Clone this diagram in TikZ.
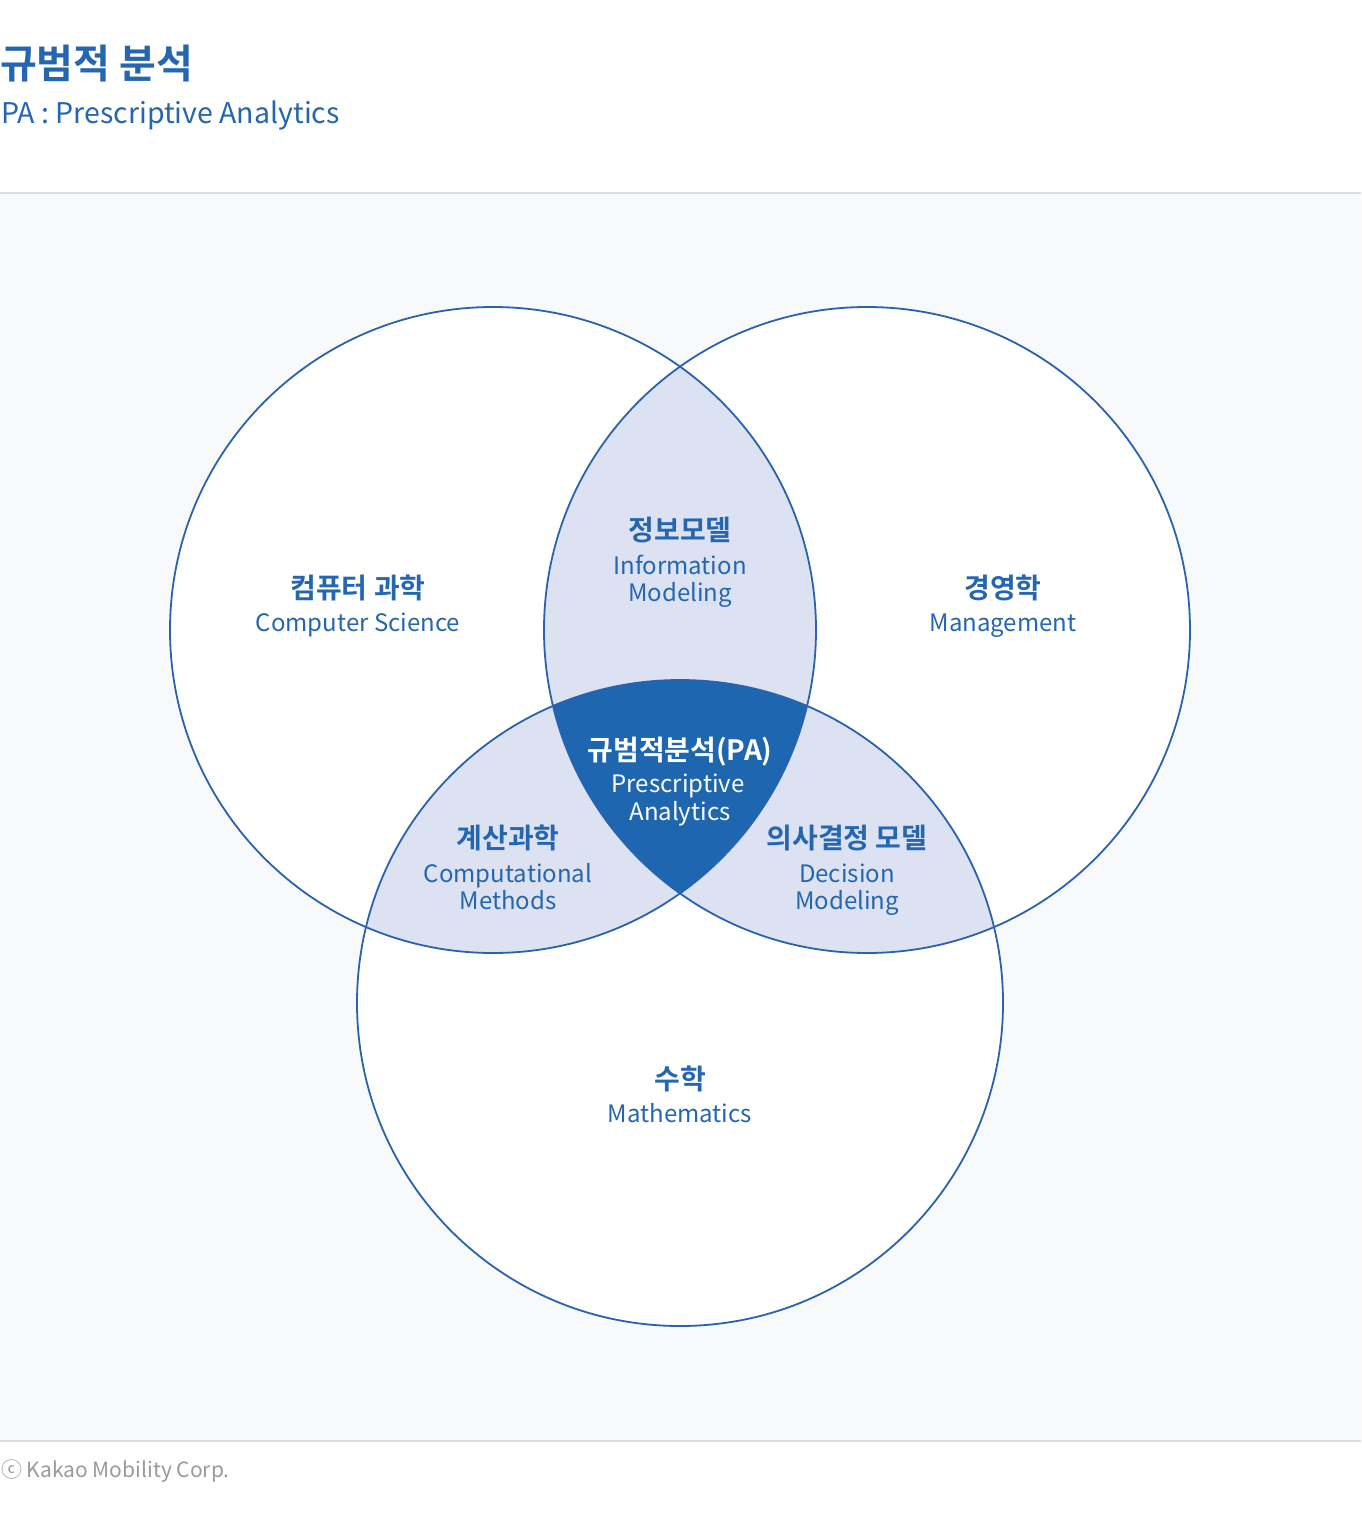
\documentclass[tikz,border=0pt]{standalone}
\usepackage{fontspec}
\setmainfont{Noto Sans CJK KR}
\newfontfamily\krb{Noto Sans CJK KR Bold}
\definecolor{txtblue}{HTML}{2566B0}
\definecolor{linblue}{HTML}{2A63AD}
\definecolor{lightfill}{HTML}{DCE2F2}
\definecolor{darkfill}{HTML}{1F66B0}
\definecolor{bggrey}{HTML}{F8F9FB}
\definecolor{rulegrey}{HTML}{DDDDE0}
\definecolor{footgrey}{HTML}{9A9A9A}
\begin{document}
\begin{tikzpicture}[x=1pt,y=-1pt,
  kor/.style={font=\krb\fontsize{28}{31}\selectfont, text=txtblue, anchor=base, inner sep=0pt},
  eng/.style={font=\fontsize{24}{28}\selectfont, text=txtblue, anchor=base, inner sep=0pt},
  circ/.style={draw=linblue, line width=1.8pt}]
\useasboundingbox (0,0) rectangle (1361,1523);
\fill[white] (0,0) rectangle (1361,1523);
\fill[bggrey] (0,194) rectangle (1361,1441);
\draw[rulegrey, line width=2pt] (0,193) -- (1361,193);
\draw[rulegrey, line width=2pt] (0,1441) -- (1361,1441);
% circles
\coordinate (cA) at (493,630);
\coordinate (cB) at (867,630);
\coordinate (cC) at (680,1003);
\def\R{323}
\fill[white] (cA) circle (\R);
\fill[white] (cB) circle (\R);
\fill[white] (cC) circle (\R);
\begin{scope}
  \clip (cA) circle (\R);
  \fill[lightfill] (cB) circle (\R);
  \fill[lightfill] (cC) circle (\R);
\end{scope}
\begin{scope}
  \clip (cB) circle (\R);
  \fill[lightfill] (cC) circle (\R);
\end{scope}
\begin{scope}
  \clip (cA) circle (\R);
  \clip (cB) circle (\R);
  \fill[darkfill] (cC) circle (\R);
\end{scope}
\draw[circ] (cA) circle (\R);
\draw[circ] (cB) circle (\R);
\draw[circ] (cC) circle (\R);
% header
\node (title) [font=\krb\fontsize{40}{44}\selectfont, text=txtblue, anchor=base west, inner sep=0pt] at (0,78) {규범적 분석};
\node (subtitle) [font=\fontsize{28.5}{32}\selectfont, text=txtblue, anchor=base west, inner sep=0pt] at (1,123) {PA : Prescriptive Analytics};
% labels
\node (csk) [kor] at (358,598) {컴퓨터 과학};
\node (cse) [eng] at (358,631) {Computer Science};
\node (mgk) [kor] at (1003,598) {경영학};
\node (mge) [eng] at (1003,631) {Management};
\node (imk) [kor] at (680,540) {정보모델};
\node (ime1) [eng] at (680,574) {Information};
\node (ime2) [eng] at (680,601) {Modeling};
\node (pak) [kor, text=white] at (680,760) {규범적분석(PA)};
\node (pae1) [eng, text=white] at (678,792) {Prescriptive};
\node (pae2) [eng, text=white] at (680,820) {Analytics};
\node (cmk) [kor] at (508,848) {계산과학};
\node (cme1) [eng] at (508,882) {Computational};
\node (cme2) [eng] at (508,909) {Methods};
\node (dmk) [kor] at (847,848) {의사결정 모델};
\node (dme1) [eng] at (847,882) {Decision};
\node (dme2) [eng] at (847,909) {Modeling};
\node (mak) [kor] at (680,1089) {수학};
\node (mae) [eng] at (680,1122) {Mathematics};
% footer
\node (foot) [font=\fontsize{21}{24}\selectfont, text=footgrey, anchor=base west, inner sep=0pt] at (1,1477) {ⓒ Kakao Mobility Corp.};
\end{tikzpicture}
\end{document}
